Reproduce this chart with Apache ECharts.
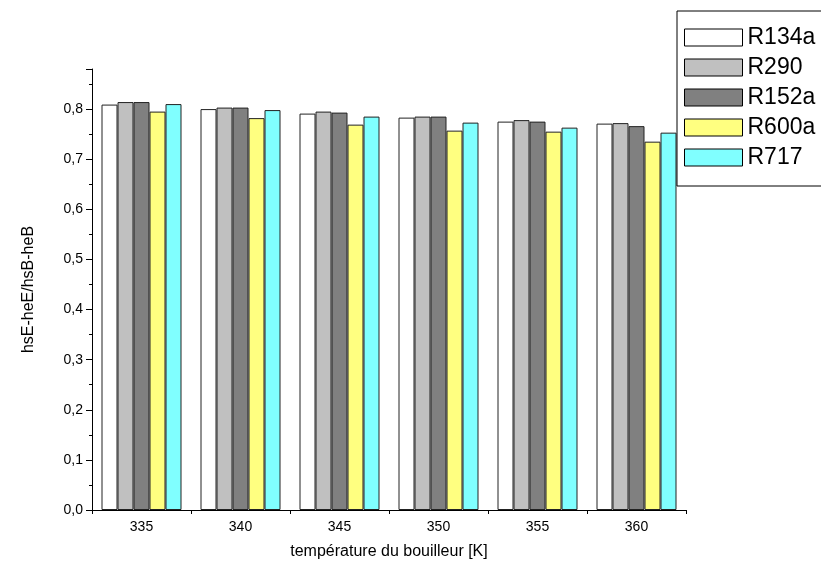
<!DOCTYPE html>
<html><head><meta charset="utf-8">
<script src="https://cdn.jsdelivr.net/npm/echarts@6/dist/echarts.min.js"></script>
<style>html,body{margin:0;padding:0;background:#fff}#c{width:821px;height:578px}</style>
</head><body><div id="c"></div>
<script>
const categories = ['335', '340', '345', '350', '355', '360'];
const seriesNames = ['R134a', 'R290', 'R152a', 'R600a', 'R717'];
const R134a = [0.809, 0.800, 0.791, 0.783, 0.775, 0.771];
const R290  = [0.814, 0.803, 0.795, 0.785, 0.778, 0.772];
const R152a = [0.814, 0.803, 0.793, 0.785, 0.775, 0.766];
const R600a = [0.795, 0.782, 0.769, 0.757, 0.755, 0.735];
const R717  = [0.810, 0.798, 0.785, 0.773, 0.763, 0.753];
const seriesValues = [R134a, R290, R152a, R600a, R717];
const colors = ['#ffffff', '#c0c0c0', '#808080', '#ffff80', '#80ffff'];
const yTicks = [0, 0.1, 0.2, 0.3, 0.4, 0.5, 0.6, 0.7, 0.8];

const font = 'Liberation Sans, Arial, sans-serif';
const chart = echarts.init(document.getElementById('c'));
chart.setOption({
  animation: false,
  backgroundColor: '#fff',
  textStyle: { fontFamily: font, color: '#000' },
  grid: { left: 92, right: 135, top: 69, bottom: 68 },
  legend: {
    data: seriesNames,
    orient: 'vertical',
    left: 677, top: 11,
    padding: [15, 20, 17, 7],
    itemWidth: 58, itemHeight: 17, itemGap: 7,
    icon: 'rect',
    borderColor: '#000', borderWidth: 1,
    itemStyle: { borderColor: '#000', borderWidth: 1 },
    textStyle: { fontFamily: font, fontSize: 23, color: '#000', lineHeight: 22 }
  },
  xAxis: [{
    type: 'category', data: categories, boundaryGap: true,
    name: 'température du bouilleur [K]', nameLocation: 'middle', nameGap: 34,
    nameTextStyle: { fontFamily: font, fontSize: 16, color: '#000' },
    axisLine: { lineStyle: { color: '#000', width: 1 } },
    axisTick: { alignWithLabel: true, length: 7, lineStyle: { color: '#000' } },
    axisLabel: { fontFamily: font, fontSize: 14, color: '#000', margin: 10 },
    splitLine: { show: false }
  }, {
    type: 'category', data: categories, boundaryGap: true, position: 'bottom',
    axisLine: { show: false },
    axisTick: { show: true, length: 4, lineStyle: { color: '#000' } },
    axisLabel: { show: false },
    splitLine: { show: false }
  }],
  yAxis: {
    type: 'value', min: 0, max: 0.88, interval: 0.1,
    name: 'hsE-heE/hsB-heB', nameLocation: 'middle', nameGap: 55, nameRotate: 90,
    nameTextStyle: { fontFamily: font, fontSize: 16, color: '#000' },
    axisLine: { show: true, lineStyle: { color: '#000', width: 1 } },
    axisTick: { show: true, length: 6, lineStyle: { color: '#000' } },
    minorTick: { show: true, splitNumber: 2, length: 3, lineStyle: { color: '#000' } },
    axisLabel: {
      fontFamily: font, fontSize: 14, color: '#000', margin: 9,
      formatter: v => yTicks.some(t => Math.abs(t - v) < 1e-9) ? v.toFixed(1).replace('.', ',') : ''
    },
    splitLine: { show: false }
  },
  series: seriesNames.map((n, i) => ({
    name: n, type: 'bar', xAxisIndex: 0,
    data: seriesValues[i],
    barWidth: 16, barGap: '0%',
    itemStyle: { color: colors[i], borderColor: '#222', borderWidth: 1 }
  }))
});
</script></body></html>
